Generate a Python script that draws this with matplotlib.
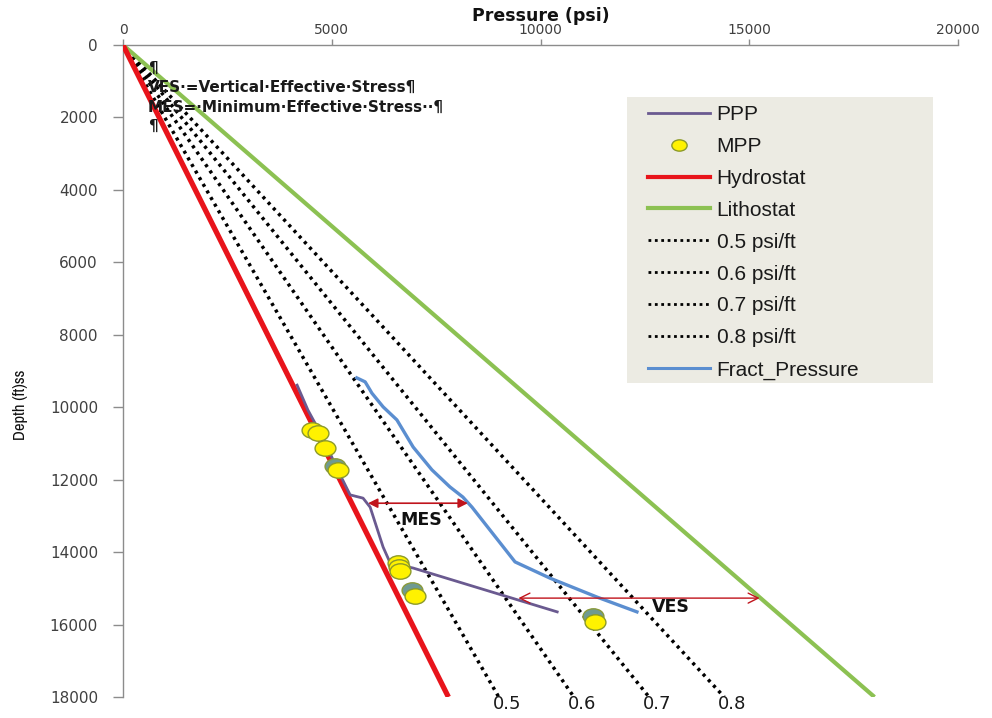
import matplotlib
matplotlib.use("Agg")
import matplotlib.pyplot as plt
from matplotlib import font_manager
from matplotlib.path import Path
from matplotlib.patches import Rectangle
from matplotlib.transforms import Affine2D
from matplotlib.lines import Line2D

# ---- data -------------------------------------------------------------
depth_max = 18000
gradients = [0.5, 0.6, 0.7, 0.8]          # psi/ft reference lines
grad_labels = ["0.5", "0.6", "0.7", "0.8"]
hydro_grad = 0.433                        # psi/ft
litho_grad = 1.0                          # psi/ft

ppp_pressure = [4170, 4430, 4600, 4870, 5150, 5440, 5750, 5920, 6230, 6400, 6950, 10400]
ppp_depth = [9390, 10080, 10440, 11050, 11750, 12420, 12510, 12760, 13860, 14300, 14440, 15650]

mpp_pressure = [4530, 4670, 4840, 5150, 6590, 6610, 6640, 6990, 11300]
mpp_depth = [10630, 10710, 11130, 11730, 14300, 14410, 14520, 15210, 15930]

mpp2_pressure = [5080, 6920, 11260]
mpp2_depth = [11620, 15050, 15760]

frac_pressure = [5600, 5800, 5920, 5960, 6230, 6560, 6950, 7400, 7830, 8140, 8360,
                 9390, 10230, 11350, 12310]
frac_depth = [9190, 9300, 9530, 9610, 9990, 10350, 11100, 11730, 12200, 12480, 12760,
              14270, 14720, 15240, 15650]

mes_depth, mes_from, mes_to = 12650, 5870, 8260
ves_depth, ves_from, ves_to = 15270, 9470, 15250

x_ticks = [0, 5000, 10000, 15000, 20000]
y_ticks = list(range(0, 18001, 2000))

notes = ["¶",
         "VES·=Vertical·Effective·Stress¶",
         "MES=·Minimum·Effective·Stress··¶",
         "¶"]
note_depths = [635, 1160, 1712, 2236]


def narrow_font(size):
    """Pick a condensed sans face for the depth label if one is installed."""
    for f in font_manager.fontManager.ttflist:
        if ("Narrow" in f.name or "Condensed" in f.name) and f.style == "normal" \
                and f.weight in (400, "normal", "regular"):
            return font_manager.FontProperties(fname=f.fname, size=size)
    return font_manager.FontProperties(family="Liberation Sans", size=size * 0.8)


# ---- figure -----------------------------------------------------------
fig = plt.figure(figsize=(9.92, 7.18), dpi=100)
ax = fig.add_axes([123 / 992, 21 / 718, 835 / 992, 652 / 718])

ax.set_xlim(0, 20000)
ax.set_ylim(depth_max, 0)

line_depths = [0, depth_max]

# pressure gradient reference lines
for g in gradients:
    ax.plot([0, g * depth_max], line_depths, color="black", lw=2.5,
            linestyle=(0, (0.9, 1.3)), dash_capstyle="butt", zorder=2)
for g, lab in zip(gradients, grad_labels):
    ax.text(g * depth_max + 200, depth_max + 190, lab, ha="center", va="center",
            fontsize=13, color="#1a1a1a", clip_on=False)

ax.plot([0, litho_grad * depth_max], line_depths, color="#8cc152", lw=3.0,
        solid_capstyle="butt", zorder=3)
ax.plot([0, hydro_grad * depth_max], line_depths, color="#e8141b", lw=3.8,
        solid_capstyle="butt", zorder=3)

ax.plot(frac_pressure, frac_depth, color="#5b8ed0", lw=2.4, zorder=4)
ax.plot(ppp_pressure, ppp_depth, color="#6a5a90", lw=2.0, zorder=4)

# elliptical markers for measured pressures
ell = Affine2D().scale(1.0, 0.74).transform_path(Path.unit_circle())
ax.plot(mpp2_pressure, mpp2_depth, linestyle="none", marker=ell, markersize=15,
        markerfacecolor="#6f9a92", markeredgecolor="#8a9a3a", markeredgewidth=1.0,
        zorder=5)
ax.plot(mpp_pressure, mpp_depth, linestyle="none", marker=ell, markersize=15,
        markerfacecolor="#fff200", markeredgecolor="#8c9a2a", markeredgewidth=1.0,
        zorder=6)

# effective stress arrows
ax.annotate("", xy=(mes_from, mes_depth), xytext=(mes_to, mes_depth),
            arrowprops=dict(arrowstyle="<|-|>", color="#c0141c", lw=1.2,
                            mutation_scale=14, shrinkA=0, shrinkB=0), zorder=7)
ax.annotate("", xy=(ves_from, ves_depth), xytext=(ves_to, ves_depth),
            arrowprops=dict(arrowstyle="<->", color="#c0141c", lw=1.0,
                            mutation_scale=18, shrinkA=0, shrinkB=0), zorder=7)
ax.text(7150, 13110, "MES", ha="center", va="center", fontsize=12.5,
        fontweight="bold", color="#111111", zorder=8)
ax.text(12670, 15520, "VES", ha="left", va="center", fontsize=12.5,
        fontweight="bold", color="#111111", zorder=8)

for txt, d in zip(notes, note_depths):
    ax.text(600, d, txt, ha="left", va="center", fontsize=11, fontweight="bold",
            color="#1a1a1a", zorder=8)

# ---- axes styling -----------------------------------------------------
ax.xaxis.tick_top()
ax.xaxis.set_label_position("top")
ax.set_xticks(x_ticks)
ax.set_yticks(y_ticks)
ax.set_xticklabels([str(v) for v in x_ticks])
ax.set_yticklabels([str(v) for v in y_ticks])
for side in ("right", "bottom"):
    ax.spines[side].set_visible(False)
for side in ("left", "top"):
    ax.spines[side].set_color("#8c8c8c")
    ax.spines[side].set_linewidth(1.0)
ax.tick_params(axis="x", direction="out", length=4, width=1, color="#8c8c8c",
               labelsize=10, labelcolor="#404040", pad=1.5)
ax.tick_params(axis="y", direction="out", length=7, width=1, color="#8c8c8c",
               labelsize=11, labelcolor="#404040", pad=11)

ax.set_xlabel("Pressure (psi)", fontsize=12.5, fontweight="bold", color="#111111",
              labelpad=1.5)
ax.set_ylabel("Depth (ft)ss", color="#111111", fontproperties=narrow_font(12))
ax.yaxis.set_label_coords(-0.114, 0.448)

# ---- legend -----------------------------------------------------------
ax.add_patch(Rectangle((0.6036, 0.4816), 0.3665, 0.4387, transform=ax.transAxes,
                       facecolor="#ecebe3", edgecolor="none", zorder=9))

handles = [
    Line2D([], [], color="#6a5a90", lw=2.0),
    Line2D([], [], linestyle="none", marker=ell, markersize=11,
           markerfacecolor="#fff200", markeredgecolor="#8c9a2a"),
    Line2D([], [], color="#e8141b", lw=3.0),
    Line2D([], [], color="#8cc152", lw=3.0),
] + [Line2D([], [], color="black", lw=2.0, linestyle=(0, (1, 1.3)))
     for _ in gradients] + [Line2D([], [], color="#5b8ed0", lw=2.2)]
labels = ["PPP", "MPP", "Hydrostat", "Lithostat"] + \
         [f"{g} psi/ft" for g in gradients] + ["Fract_Pressure"]

leg = ax.legend(handles, labels, loc="upper left",
                bbox_to_anchor=(0.6287, 0.908),
                prop={"family": "Liberation Sans", "size": 15},
                handlelength=3.0, handletextpad=0.3, labelspacing=0.62,
                borderpad=0, borderaxespad=0, frameon=False)
leg.set_zorder(10)
for t in leg.get_texts():
    t.set_color("#1a1a1a")

fig.savefig("out.png", dpi=100)
